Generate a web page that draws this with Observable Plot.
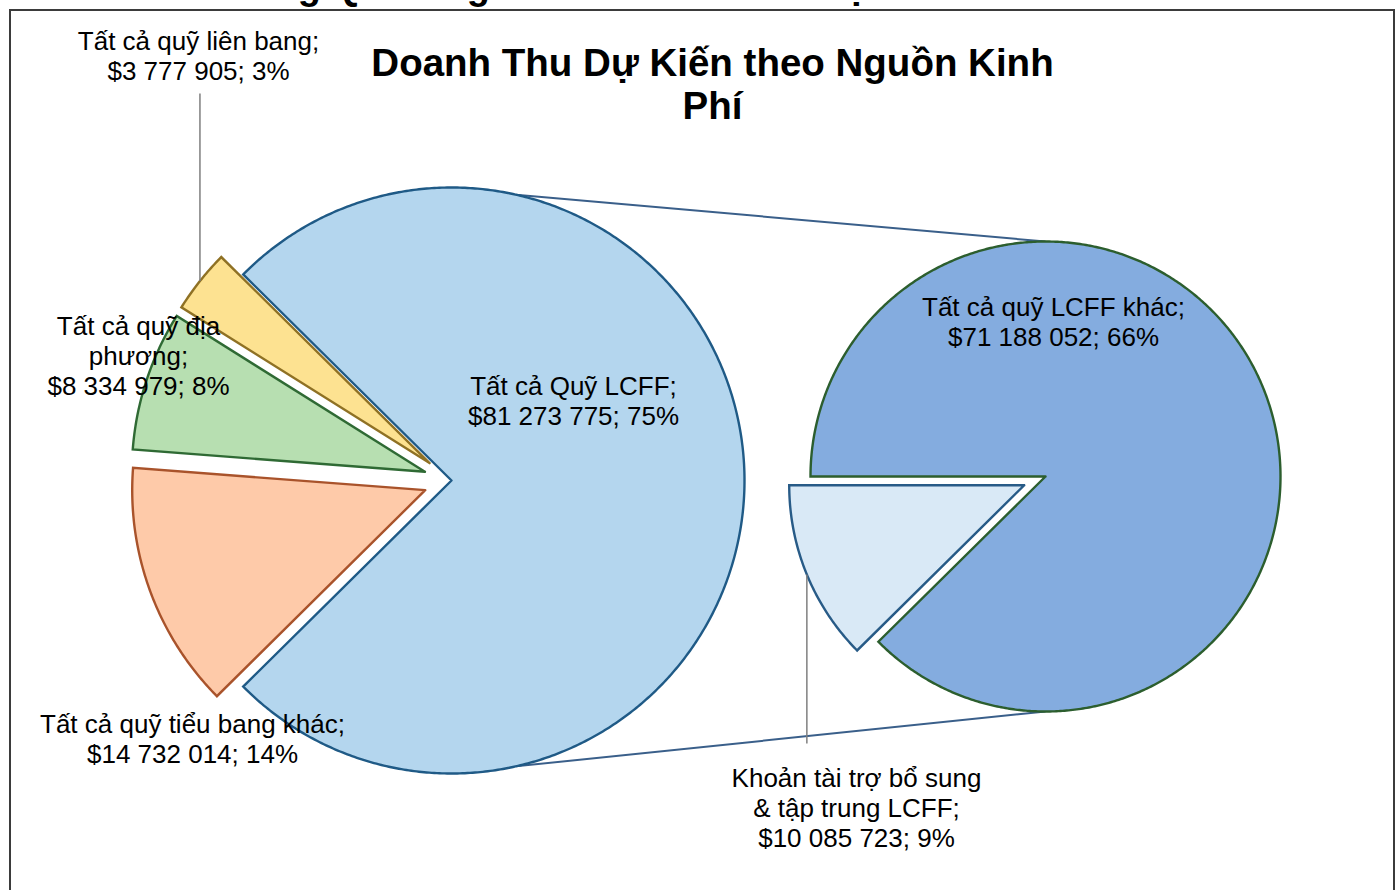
<!DOCTYPE html>
<html><head><meta charset="utf-8">
<script src="https://cdn.jsdelivr.net/npm/d3@7"></script>
<script src="https://cdn.jsdelivr.net/npm/@observablehq/plot@0.6"></script>
<style>
body{margin:0;background:#fff;overflow:hidden}
#wrap{position:relative;width:1395px;height:890px;overflow:hidden;background:#fff}
#frame{position:absolute;left:9px;top:9px;width:1382px;height:900px;border:2px solid #3b3b3b;pointer-events:none}
</style></head><body>
<div id="wrap"><div id="chart"></div><div id="frame"></div></div>
<script>
// ---- data ----
const mainCategories = ["Tất cả Quỹ LCFF", "Tất cả quỹ tiểu bang khác", "Tất cả quỹ địa phương", "Tất cả quỹ liên bang"];
const mainLabelNames = ["Tất cả Quỹ LCFF;", "Tất cả quỹ tiểu bang khác;", "Tất cả quỹ địa\nphương;", "Tất cả quỹ liên bang;"];
const mainValues = [81273775, 14732014, 8334979, 3777905];
const mainPercents = [75, 14, 8, 3];
const subCategories = ["Tất cả quỹ LCFF khác", "Khoản tài trợ bổ sung & tập trung LCFF"];
const subLabelNames = ["Tất cả quỹ LCFF khác;", "Khoản tài trợ bổ sung\n& tập trung LCFF;"];
const subValues = [71188052, 10085723];
const subPercents = [66, 9];
const titleText = "Doanh Thu Dự Kiến theo Nguồn Kinh\nPhí";
const pageHeading = "Tổng Quan Ngân Sách cho Năm Học LCAP 2021–22";

// ---- styles / layout ----
const mainFills = ["#b4d6ee", "#fecaa9", "#b7dfb1", "#fde291"];
const mainStrokes = ["#1f5a86", "#a9532b", "#2f6a34", "#8f7124"];
const subFills = ["#84acdf", "#d9e9f6"];
const subStrokes = ["#2c5e2e", "#285b87"];
const MAIN = {cx: 451, cy: 480, r: 293, explode: 28};
const SUB = {cx: 1045, cy: 476, r: 235, explode: 23};
const mainLabelPos = [[573, 400], [192, 738], [138, 355], [198, 55]];
const subLabelPos = [[1053, 321], [856, 807]];
const FONT = "Liberation Sans, Arial, Helvetica, sans-serif";

const rad = d => d * Math.PI / 180;
const fmt = v => d3.format(",")(v).replace(/,/g, " ");

function slices(values, startDeg, geo, explodeIdx) {
  const total = d3.sum(values);
  let a = startDeg;
  return values.map((v, i) => {
    const span = v / total * 360;
    const a0 = a, a1 = a + span; a = a1;
    const mid = (a0 + a1) / 2;
    const e = explodeIdx(i) ? geo.explode : 0;
    const vx = geo.cx + e * Math.cos(rad(mid)), vy = geo.cy + e * Math.sin(rad(mid));
    const pts = [{x: vx, y: vy}];
    const n = Math.max(2, Math.ceil(span / 0.5));
    for (let k = 0; k <= n; k++) {
      const t = rad(a0 + span * k / n);
      pts.push({x: vx + geo.r * Math.cos(t), y: vy + geo.r * Math.sin(t)});
    }
    pts.push({x: vx, y: vy});
    return {i, a0, a1, mid, vx, vy, pts,
      midX: vx + geo.r * Math.cos(rad(mid)), midY: vy + geo.r * Math.sin(rad(mid))};
  });
}

const mainTotal = d3.sum(mainValues);
const mainStart = -(mainValues[0] / mainTotal) * 180;          // first slice centred on the right
const mainSlices = slices(mainValues, mainStart, MAIN, i => i > 0);
const subSlices = slices(subValues, 180, SUB, i => i > 0);       // big slice starts at 9 o'clock

// connector lines between pies
const cAng = 77.3;
const connectors = [-1, 1].map(s => ({
  x1: MAIN.cx + MAIN.r * Math.cos(rad(s * cAng)), y1: MAIN.cy + MAIN.r * Math.sin(rad(s * cAng)),
  x2: SUB.cx, y2: SUB.cy + s * SUB.r
}));

const mainLabels = mainValues.map((v, i) => ({
  x: mainLabelPos[i][0], y: mainLabelPos[i][1],
  text: `${mainLabelNames[i]}\n$${fmt(v)}; ${mainPercents[i]}%`
}));
const subLabels = subValues.map((v, i) => ({
  x: subLabelPos[i][0], y: subLabelPos[i][1],
  text: `${subLabelNames[i]}\n$${fmt(v)}; ${subPercents[i]}%`
}));

// leader lines (federal and supplemental slices)
const leaders = [
  {x1: mainSlices[3].midX, y1: mainSlices[3].midY, x2: mainSlices[3].midX, y2: 93},
  {x1: subSlices[1].midX, y1: subSlices[1].midY, x2: subSlices[1].midX, y2: 743}
];

const marks = [];
marks.push(Plot.link(connectors, {x1: "x1", y1: "y1", x2: "x2", y2: "y2", stroke: "#3a5f8a", strokeWidth: 2}));
mainSlices.forEach(s => marks.push(Plot.line(s.pts, {x: "x", y: "y", fill: mainFills[s.i], stroke: mainStrokes[s.i],
  strokeWidth: 2.4, strokeLinejoin: "miter", strokeMiterlimit: 12, curve: "linear"})));
subSlices.forEach(s => marks.push(Plot.line(s.pts, {x: "x", y: "y", fill: subFills[s.i], stroke: subStrokes[s.i],
  strokeWidth: 2.4, strokeLinejoin: "miter", strokeMiterlimit: 12, curve: "linear"})));
marks.push(Plot.link(leaders, {x1: "x1", y1: "y1", x2: "x2", y2: "y2", stroke: "#7f7f7f", strokeWidth: 1.5}));
marks.push(Plot.text(mainLabels.concat(subLabels), {x: "x", y: "y", text: "text", fontSize: 26, lineHeight: 1.15,
  fontFamily: FONT, fill: "#000"}));
marks.push(Plot.text([titleText], {x: 712, y: 83, text: d => d, fontSize: 38.5, fontWeight: "bold", lineHeight: 1.12,
  fontFamily: FONT, fill: "#000"}));
marks.push(Plot.text([pageHeading], {x: 694, y: -14, text: d => d, fontSize: 38, fontWeight: "bold",
  fontFamily: FONT, fill: "#000"}));

const chart = Plot.plot({
  width: 1395, height: 890, margin: 0,
  x: {domain: [0, 1395], range: [0, 1395], axis: null},
  y: {domain: [0, 890], range: [0, 890], axis: null},
  style: {background: "#fff", overflow: "visible"},
  marks
});
document.getElementById("chart").appendChild(chart);
</script>
</body></html>
